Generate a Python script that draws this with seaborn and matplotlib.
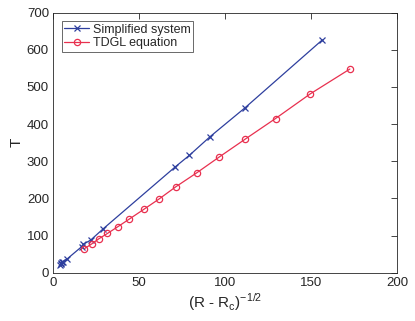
import numpy as np
import matplotlib
matplotlib.use("Agg")
import matplotlib.pyplot as plt
import seaborn as sns

# data
simp_x = [4.0, 4.3, 4.6, 5.0, 5.5, 8.3, 16.5, 17.6, 21.8, 29.0, 71.0, 79.2, 91.2, 111.6, 156.4]
simp_y = [22, 24, 26, 28, 30, 38, 70, 77, 88, 118, 285, 316, 366, 444, 626]
tdgl_x = [18.2, 22.5, 26.7, 31.6, 37.6, 44.4, 52.8, 61.4, 71.5, 83.5, 96.4, 111.8, 129.3, 149.4, 172.5]
tdgl_y = [65, 78, 92, 106, 124, 145, 171, 198, 232, 269, 311, 360, 415, 481, 548]
labels = ["Simplified system", "TDGL equation"]
colors = ["#2e3f9e", "#e8304f"]

sns.set_style("white")
plt.rcParams["font.family"] = ["Liberation Sans", "DejaVu Sans"]
plt.rcParams["font.size"] = 10

fig = plt.figure(figsize=(4.15, 3.21), dpi=100)
ax = fig.add_axes([0.128, 0.150, 0.829, 0.811])

sns.lineplot(x=simp_x, y=simp_y, color=colors[0], marker="x", label=labels[0],
             sort=False, estimator=None, linewidth=0.9, markersize=4.5,
             markeredgecolor=colors[0], markeredgewidth=0.9, ax=ax)
sns.lineplot(x=tdgl_x, y=tdgl_y, color=colors[1], marker="o", label=labels[1],
             sort=False, estimator=None, linewidth=0.9, markersize=4.5,
             markerfacecolor="none", markeredgecolor=colors[1],
             markeredgewidth=0.9, ax=ax)

ax.set_xlim(0, 200)
ax.set_ylim(0, 700)
ax.set_xticks(np.arange(0, 201, 50))
ax.set_yticks(np.arange(0, 701, 100))
ax.set_xlabel(r"(R - R$_\mathregular{c}$)$^\mathregular{-1/2}$", fontsize=11, labelpad=2)
ax.set_ylabel("T", fontsize=11)
ax.yaxis.set_label_coords(-0.085, 0.5)
ax.tick_params(direction="in", length=4, width=0.6, colors="#262626",
               top=True, right=True, labelsize=9.5, pad=3)
for s in ax.spines.values():
    s.set_color("#262626")
    s.set_linewidth(0.6)

leg = ax.legend(loc="upper left", frameon=True, fancybox=False,
                edgecolor="#262626", fontsize=9, handlelength=2.0,
                handletextpad=0.3, borderpad=0.2, labelspacing=0.1,
                borderaxespad=0.7)
leg.get_frame().set_linewidth(0.6)

fig.savefig("out.png", dpi=100)
